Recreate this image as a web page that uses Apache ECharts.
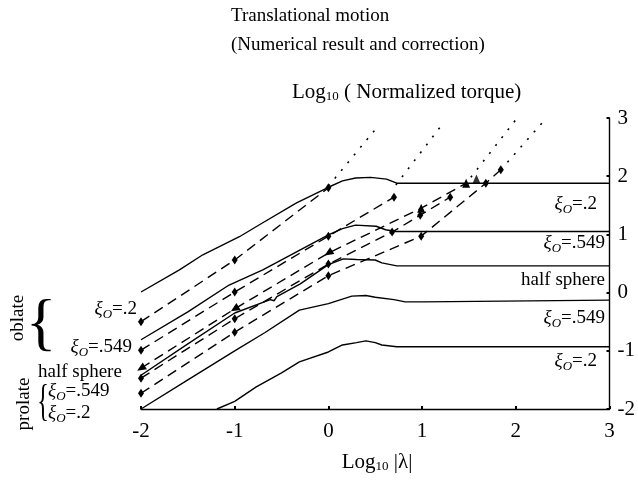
<!DOCTYPE html>
<html><head><meta charset="utf-8">
<script src="https://cdn.jsdelivr.net/npm/echarts@6/dist/echarts.min.js"></script>
<style>html,body{margin:0;padding:0;background:#fff}#c{width:638px;height:482px}</style>
</head><body><div id="c"></div>
<script>
// ---- data ----
const xTicks = [-2, -1, 0, 1, 2, 3];
const yTicks = [-2, -1, 0, 1, 2, 3];
// numerical results (solid)
const solidOblate02 = [[-2,0.01],[-1.59,0.39],[-1.34,0.65],[-0.95,0.96],[-0.70,1.20],[-0.34,1.54],[0,1.81],[0.15,1.92],[0.29,1.97],[0.45,1.98],[0.62,1.95],[0.73,1.88],[3,1.88]];
const solidOblate549 = [[-2,-0.81],[-1.5,-0.33],[-1.06,0.13],[-0.70,0.39],[-0.34,0.70],[0,0.99],[0.15,1.10],[0.29,1.16],[0.51,1.14],[0.61,1.08],[0.72,1.05],[3,1.05]];
const solidHalfSphere = [[-2,-1.42],[-1.5,-0.88],[-1,-0.35],[-0.62,-0.12],[-0.58,-0.14],[-0.55,-0.07],[-0.3,0.15],[0,0.48],[0.16,0.58],[0.3,0.57],[0.5,0.56],[0.57,0.51],[0.73,0.46],[3,0.46]];
const solidProlate549 = [[-2,-2.0],[-1.5,-1.5],[-1,-1.0],[-0.68,-0.69],[-0.31,-0.30],[0,-0.19],[0.25,-0.06],[0.40,-0.05],[0.5,-0.08],[0.7,-0.12],[0.82,-0.16],[1.01,-0.16],[1.02,-0.13],[3,-0.13]];
const solidProlate02 = [[-1.19,-2.0],[-1.0,-1.87],[-0.77,-1.62],[-0.5,-1.38],[-0.31,-1.19],[0,-1.02],[0.15,-0.90],[0.30,-0.86],[0.40,-0.83],[0.5,-0.86],[0.57,-0.90],[0.73,-0.93],[3,-0.93]];
// corrections (dashed with markers)
const corrA = [[-2,-0.50],[-1,0.56],[0,1.80]];
const corrB = [[-2,-0.99],[-1,0.01],[0,0.97],[0.70,1.64]];
const corrC = [[-2,-1.30],[-1,-0.28],[0,0.68],[0.99,1.45],[1.47,1.88]];
const corrD = [[-2,-1.47],[-1,-0.45],[0,0.49],[0.68,1.04],[0.98,1.33],[1.30,1.64]];
const corrE = [[-2,-1.73],[-1,-0.68],[0,0.29],[0.99,0.97],[1.68,1.88],[1.84,2.11]];
const extraTri = [[1.58,1.95]];
// asymptotes (dotted)
const asym1 = [[0.0,1.83],[0.52,2.84]];
const asym2 = [[0.72,1.85],[1.21,2.88]];
const asym3 = [[1.52,1.98],[2.0,2.97]];
const asym4 = [[1.84,2.11],[2.31,2.97]];

const FONT = '"Liberation Serif", "Times New Roman", serif';
const chart = echarts.init(document.getElementById('c'), null, {renderer: 'canvas'});

function solid(d) {
  return {type: 'line', data: d, symbol: 'none', silent: true,
    lineStyle: {color: '#000', width: 1.4, type: 'solid'}, z: 2};
}
function dashed(d, tri) {
  return {type: 'line', data: d, silent: true,
    symbol: tri ? 'triangle' : 'diamond',
    symbolSize: tri ? [8, 9] : [6, 9],
    symbolRotate: tri ? function (v) { return v[0] < 0.5 ? 122 : 0; } : 0,
    itemStyle: {color: '#000'},
    lineStyle: {color: '#000', width: 1.4, type: [10, 6]}, z: 3};
}
function dotted(d) {
  return {type: 'line', data: d, symbol: 'none', silent: true,
    lineStyle: {color: '#000', width: 1.6, type: [2, 8]}, z: 2};
}

function xi(sub) {
  return '{g|ξ}{o|O}{t|' + sub + '}';
}
const xiRich = {
  g: {fontFamily: FONT, fontSize: 19, fill: '#000', fontStyle: 'italic'},
  o: {fontFamily: FONT, fontSize: 13, fill: '#000', fontStyle: 'italic', padding: [11, 0, 0, 0]},
  t: {fontFamily: FONT, fontSize: 19, fill: '#000'}
};
function label(x, y, txt, align) {
  return {type: 'text', x: x, y: y, silent: true,
    style: {text: txt, rich: xiRich, font: '19px ' + FONT, fill: '#000',
      textAlign: align || 'left', textVerticalAlign: 'middle'}};
}
function plain(x, y, txt, size, align, rot, sx) {
  return {type: 'text', x: x, y: y, rotation: rot || 0, scaleX: sx || 1, silent: true,
    style: {text: txt, font: size + 'px ' + FONT, fill: '#000',
      textAlign: align || 'left', textVerticalAlign: 'middle'}};
}

const option = {
  animation: false,
  backgroundColor: '#fff',
  grid: {left: 141, right: 26, top: 118, bottom: 73},
  xAxis: {
    type: 'value', min: xTicks[0], max: xTicks[xTicks.length - 1], interval: 1,
    axisLine: {show: true, onZero: false, lineStyle: {color: '#000', width: 1.4}},
    axisTick: {show: true, inside: true, length: 3, lineStyle: {color: '#000', width: 2}},
    axisLabel: {color: '#000', fontFamily: FONT, fontSize: 21, margin: 12,
      formatter: function (v) { return String(v); }},
    splitLine: {show: false}
  },
  yAxis: {
    type: 'value', position: 'right', min: yTicks[0], max: yTicks[yTicks.length - 1], interval: 1,
    axisLine: {show: true, onZero: false, lineStyle: {color: '#000', width: 1.4}},
    axisTick: {show: true, inside: true, length: 3, lineStyle: {color: '#000', width: 2}},
    axisLabel: {color: '#000', fontFamily: FONT, fontSize: 21, margin: 8,
      formatter: function (v) { return String(v); }},
    splitLine: {show: false}
  },
  series: [
    solid(solidOblate02), solid(solidOblate549), solid(solidHalfSphere),
    solid(solidProlate549), solid(solidProlate02),
    dashed(corrA), dashed(corrB), dashed(corrC, true), dashed(corrD), dashed(corrE),
    {type: 'scatter', data: extraTri, symbol: 'triangle', symbolSize: [8, 9],
      itemStyle: {color: '#000'}, silent: true, z: 3},
    dotted(asym1), dotted(asym2), dotted(asym3), dotted(asym4)
  ],
  graphic: [
    plain(231, 16, 'Translational motion', 19),
    plain(231, 45, '(Numerical result and correction)', 19),
    {type: 'text', x: 292, y: 92, silent: true,
      style: {text: '{a|Log}{s|10}{a| ( Normalized torque)}', textVerticalAlign: 'middle',
        rich: {a: {fontFamily: FONT, fontSize: 21, fill: '#000'},
               s: {fontFamily: FONT, fontSize: 13, fill: '#000', padding: [10, 0, 0, 0]}}}},
    {type: 'text', x: 377, y: 462, silent: true,
      style: {text: '{a|Log}{s|10}{a| |λ|}', textAlign: 'center', textVerticalAlign: 'middle',
        rich: {a: {fontFamily: FONT, fontSize: 21, fill: '#000'},
               s: {fontFamily: FONT, fontSize: 13, fill: '#000', padding: [10, 0, 0, 0]}}}},
    // right labels
    label(597, 204, xi('=.2'), 'right'),
    label(605, 243, xi('=.549'), 'right'),
    plain(605, 280, 'half sphere', 19, 'right'),
    label(605, 318, xi('=.549'), 'right'),
    label(597, 361, xi('=.2'), 'right'),
    // left labels
    plain(18, 318, 'oblate', 19, 'center', Math.PI / 2),
    plain(41, 326, '{', 64, 'center'),
    label(137, 309, xi('=.2'), 'right'),
    label(132, 347, xi('=.549'), 'right'),
    plain(38, 372, 'half sphere', 19, 'left'),
    plain(24, 404, 'prolate', 19, 'center', Math.PI / 2),
    plain(43, 403, '{', 44, 'center', 0, 0.55),
    label(48, 391, xi('=.549'), 'left'),
    label(48, 413, xi('=.2'), 'left')
  ]
};
chart.setOption(option);
</script>
</body></html>
